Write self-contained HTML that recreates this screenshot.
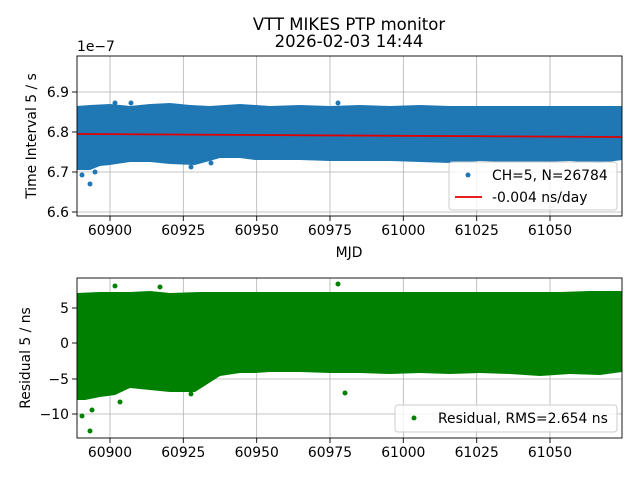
<!DOCTYPE html>
<html><head><meta charset="utf-8"><style>
body{margin:0;background:#fff}
svg{display:block;font-family:"DejaVu Sans","Liberation Sans",sans-serif}
</style></head><body>
<svg width="640" height="480" viewBox="0 0 640 480" xmlns="http://www.w3.org/2000/svg">
<rect width="640" height="480" fill="#fff"/>
<text x="349" y="30" font-size="16.5" text-anchor="middle">VTT MIKES PTP monitor</text>
<text x="349" y="47" font-size="16.5" text-anchor="middle">2026-02-03 14:44</text>
<!-- top axes -->
<g stroke="#b0b0b0" stroke-width="0.8">
<line x1="110" y1="56" x2="110" y2="216"/><line x1="183.3" y1="56" x2="183.3" y2="216"/><line x1="256.7" y1="56" x2="256.7" y2="216"/><line x1="330" y1="56" x2="330" y2="216"/><line x1="403.3" y1="56" x2="403.3" y2="216"/><line x1="476.7" y1="56" x2="476.7" y2="216"/><line x1="550" y1="56" x2="550" y2="216"/>
<line x1="77" y1="92" x2="622" y2="92"/><line x1="77" y1="132" x2="622" y2="132"/><line x1="77" y1="172" x2="622" y2="172"/><line x1="77" y1="212" x2="622" y2="212"/>
</g>
<g fill="#1f77b4">
<polygon points="77,106 90,105 110,104 130,106 150,104 170,103 190,105 210,106 240,104 270,106 300,105 330,106 360,105 390,106 420,105 450,106 480,106 510,106 540,106 570,106 600,106 622,106 622,160 600,163 570,161 540,162 510,162 480,161 450,163 420,162 390,161 360,161 330,161 300,160 270,160 255,160 240,158 220,158 195,165 170,164 150,162 130,162 110,165 100,166 90,170 80,170 77,170"/>
<circle cx="82" cy="175" r="2.5"/><circle cx="90" cy="184" r="2.5"/><circle cx="115" cy="103" r="2.5"/><circle cx="211" cy="163" r="2.5"/><circle cx="191" cy="167" r="2.5"/><circle cx="338" cy="103" r="2.5"/><circle cx="131" cy="103" r="2.5"/><circle cx="95" cy="172" r="2.5"/>
</g>
<line x1="77" y1="134" x2="622" y2="137" stroke="#e00000" stroke-width="1.8"/>
<rect x="77" y="56" width="545" height="160" fill="none" stroke="#000" stroke-width="0.9"/>
<g stroke="#000" stroke-width="0.9">
<line x1="72" y1="92" x2="77" y2="92"/><line x1="72" y1="132" x2="77" y2="132"/><line x1="72" y1="172" x2="77" y2="172"/><line x1="72" y1="212" x2="77" y2="212"/>
<line x1="110" y1="216" x2="110" y2="221"/><line x1="183.3" y1="216" x2="183.3" y2="221"/><line x1="256.7" y1="216" x2="256.7" y2="221"/><line x1="330" y1="216" x2="330" y2="221"/><line x1="403.3" y1="216" x2="403.3" y2="221"/><line x1="476.7" y1="216" x2="476.7" y2="221"/><line x1="550" y1="216" x2="550" y2="221"/>
</g>
<g font-size="13.9" text-anchor="end">
<text x="69" y="97">6.9</text><text x="69" y="137">6.8</text><text x="69" y="177">6.7</text><text x="69" y="217">6.6</text>
</g>
<text x="77" y="51" font-size="13.9">1e−7</text>
<g font-size="13.9" text-anchor="middle">
<text x="110" y="235">60900</text><text x="183.3" y="235">60925</text><text x="256.7" y="235">60950</text><text x="330" y="235">60975</text><text x="403.3" y="235">61000</text><text x="476.7" y="235">61025</text><text x="550" y="235">61050</text>
</g>
<text x="349" y="257" font-size="13.9" text-anchor="middle">MJD</text>
<text transform="translate(36,136) rotate(-90)" font-size="13.9" text-anchor="middle">Time Interval 5 / s</text>
<rect x="449" y="162" width="168" height="48" rx="3" fill="#fff" fill-opacity="0.8" stroke="#ccc"/>
<circle cx="468" cy="175" r="2.5" fill="#1f77b4"/>
<text x="492" y="180" font-size="13.9">CH=5, N=26784</text>
<line x1="455" y1="197" x2="482" y2="197" stroke="#e00000" stroke-width="1.8"/>
<text x="492" y="202" font-size="13.9">-0.004 ns/day</text>
<!-- bottom axes -->
<g stroke="#b0b0b0" stroke-width="0.8">
<line x1="110" y1="278" x2="110" y2="438"/><line x1="183.3" y1="278" x2="183.3" y2="438"/><line x1="256.7" y1="278" x2="256.7" y2="438"/><line x1="330" y1="278" x2="330" y2="438"/><line x1="403.3" y1="278" x2="403.3" y2="438"/><line x1="476.7" y1="278" x2="476.7" y2="438"/><line x1="550" y1="278" x2="550" y2="438"/>
<line x1="77" y1="308" x2="622" y2="308"/><line x1="77" y1="343" x2="622" y2="343"/><line x1="77" y1="379" x2="622" y2="379"/><line x1="77" y1="414" x2="622" y2="414"/>
</g>
<g fill="#008000">
<polygon points="77,293 100,292 130,292 150,291 170,293 200,292 230,292 260,292 290,292 320,292 350,292 380,292 410,292 440,292 470,292 500,292 530,292 560,292 590,291 622,291 622,372 600,375 570,374 540,376 510,374 480,373 450,374 420,373 390,374 360,373 330,373 300,372 270,372 255,373 240,373 220,376 195,392 170,392 150,390 130,388 115,395 100,397 85,400 77,400"/>
<circle cx="82" cy="416" r="2.5"/><circle cx="90" cy="431" r="2.5"/><circle cx="115" cy="286" r="2.5"/><circle cx="191" cy="394" r="2.5"/><circle cx="338" cy="284" r="2.5"/><circle cx="160" cy="287" r="2.5"/><circle cx="92" cy="410" r="2.5"/><circle cx="120" cy="402" r="2.5"/><circle cx="345" cy="393" r="2.5"/>
</g>
<rect x="77" y="278" width="545" height="160" fill="none" stroke="#000" stroke-width="0.9"/>
<g stroke="#000" stroke-width="0.9">
<line x1="72" y1="308" x2="77" y2="308"/><line x1="72" y1="343" x2="77" y2="343"/><line x1="72" y1="379" x2="77" y2="379"/><line x1="72" y1="414" x2="77" y2="414"/>
<line x1="110" y1="438" x2="110" y2="443"/><line x1="183.3" y1="438" x2="183.3" y2="443"/><line x1="256.7" y1="438" x2="256.7" y2="443"/><line x1="330" y1="438" x2="330" y2="443"/><line x1="403.3" y1="438" x2="403.3" y2="443"/><line x1="476.7" y1="438" x2="476.7" y2="443"/><line x1="550" y1="438" x2="550" y2="443"/>
</g>
<g font-size="13.9" text-anchor="end">
<text x="69" y="313">5</text><text x="69" y="348">0</text><text x="69" y="384">−5</text><text x="69" y="419">−10</text>
</g>
<g font-size="13.9" text-anchor="middle">
<text x="110" y="457">60900</text><text x="183.3" y="457">60925</text><text x="256.7" y="457">60950</text><text x="330" y="457">60975</text><text x="403.3" y="457">61000</text><text x="476.7" y="457">61025</text><text x="550" y="457">61050</text>
</g>
<text transform="translate(30,358) rotate(-90)" font-size="13.9" text-anchor="middle">Residual 5 / ns</text>
<rect x="395" y="405" width="222" height="27" rx="3" fill="#fff" fill-opacity="0.8" stroke="#ccc"/>
<circle cx="414" cy="418" r="2.5" fill="#008000"/>
<text x="438" y="423" font-size="13.9">Residual, RMS=2.654 ns</text>
</svg>
</body></html>
